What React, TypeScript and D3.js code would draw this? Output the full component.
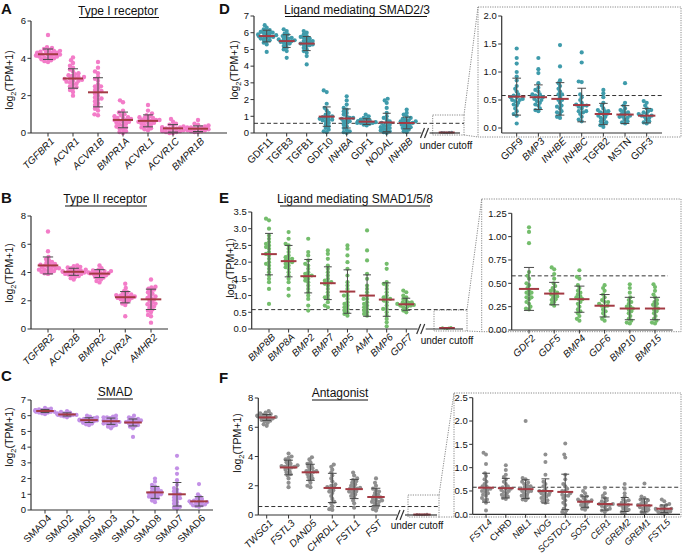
import React from 'react';
import * as d3 from 'd3';

// ---------------- DATA ----------------
const A_CATS = ['TGFBR1', 'ACVR1', 'ACVR1B', 'BMPR1A', 'ACVRL1', 'ACVR1C', 'BMPR1B'];
const A_MEAN = [4.22, 2.92, 2.18, 0.7, 0.65, 0.25, 0.23];
const A_SD = [0.28, 0.52, 0.78, 0.42, 0.32, 0.2, 0.15];
const A_PTS = [
  [5.25, 4.6, 4.55, 4.5, 4.45, 4.4, 4.4, 4.35, 4.3, 4.3, 4.25, 4.25, 4.2, 4.2, 4.2, 4.15, 4.15, 4.1, 4.1, 4.05, 4.0, 4.0, 3.95, 3.9, 3.85, 3.8, 4.3, 4.2, 4.1, 4.35],
  [4.05, 3.9, 3.75, 3.6, 3.5, 3.4, 3.3, 3.2, 3.1, 3.05, 3.0, 2.95, 2.9, 2.9, 2.85, 2.8, 2.75, 2.7, 2.65, 2.6, 2.5, 2.45, 2.4, 2.3, 2.2, 2.0, 3.0, 2.8, 3.15],
  [3.8, 3.5, 3.3, 3.2, 3.0, 2.9, 2.8, 2.6, 2.5, 2.4, 2.3, 2.2, 2.1, 2.0, 1.9, 1.8, 1.7, 1.6, 1.5, 1.4, 1.3, 1.2, 1.0, 0.95, 2.25, 2.5, 1.85],
  [1.75, 1.65, 1.2, 1.1, 1.0, 0.95, 0.9, 0.85, 0.8, 0.75, 0.7, 0.65, 0.6, 0.55, 0.5, 0.45, 0.4, 0.35, 0.3, 0.25, 0.2, 0.1, 0.05, 0.0, 0.6, 0.8, 0.7],
  [1.5, 1.2, 1.05, 0.95, 0.9, 0.85, 0.8, 0.75, 0.7, 0.7, 0.65, 0.6, 0.6, 0.55, 0.5, 0.45, 0.4, 0.35, 0.3, 0.25, 0.2, 0.15, 0.7, 0.55, 0.8],
  [0.75, 0.6, 0.5, 0.45, 0.4, 0.35, 0.3, 0.3, 0.25, 0.25, 0.2, 0.2, 0.15, 0.15, 0.1, 0.1, 0.05, 0.05, 0.0, 0.0, 0.3, 0.2],
  [0.7, 0.5, 0.45, 0.4, 0.35, 0.3, 0.3, 0.25, 0.25, 0.2, 0.2, 0.2, 0.15, 0.15, 0.1, 0.1, 0.05, 0.05, 0.3, 0.25],
];

const B_CATS = ['TGFBR2', 'ACVR2B', 'BMPR2', 'ACVR2A', 'AMHR2'];
const B_MEAN = [4.5, 4.05, 3.92, 2.25, 2.1];
const B_SD = [0.6, 0.25, 0.28, 0.4, 0.72];
const B_PTS = [
  [6.9, 5.5, 5.1, 4.95, 4.85, 4.75, 4.7, 4.6, 4.55, 4.5, 4.45, 4.4, 4.35, 4.3, 4.25, 4.2, 4.15, 4.1, 4.05, 4.0, 3.95, 3.9, 4.3, 4.6, 4.2],
  [4.5, 4.45, 4.4, 4.35, 4.3, 4.25, 4.2, 4.15, 4.1, 4.05, 4.05, 4.0, 4.0, 3.95, 3.9, 3.85, 3.8, 3.75, 3.7, 3.6, 3.5, 4.1, 4.2, 3.9],
  [4.5, 4.3, 4.2, 4.15, 4.1, 4.05, 4.0, 3.95, 3.9, 3.9, 3.85, 3.8, 3.75, 3.7, 3.65, 3.6, 3.5, 3.4, 3.3, 4.0, 3.95, 4.1],
  [3.2, 2.9, 2.7, 2.6, 2.5, 2.45, 2.4, 2.35, 2.3, 2.25, 2.2, 2.15, 2.1, 2.05, 2.0, 1.9, 1.8, 1.7, 0.9, 2.3, 2.4, 2.2],
  [3.5, 3.0, 2.95, 2.85, 2.8, 2.7, 2.6, 2.5, 2.4, 2.3, 2.2, 2.1, 2.0, 1.9, 1.8, 1.7, 1.6, 1.5, 1.4, 1.3, 1.2, 1.0, 0.9, 0.45, 2.2, 1.75],
];

const C_CATS = ['SMAD4', 'SMAD2', 'SMAD5', 'SMAD3', 'SMAD1', 'SMAD8', 'SMAD7', 'SMAD6'];
const C_MEAN = [6.3, 6.08, 5.72, 5.65, 5.57, 1.12, 1.0, 0.55];
const C_SD = [0.1, 0.1, 0.15, 0.2, 0.22, 0.38, 0.75, 0.3];
const C_PTS = [
  [6.5, 6.45, 6.4, 6.4, 6.35, 6.35, 6.3, 6.3, 6.3, 6.25, 6.25, 6.2, 6.2, 6.15, 6.1, 6.3, 6.35, 6.25],
  [6.3, 6.25, 6.2, 6.15, 6.1, 6.1, 6.05, 6.05, 6.0, 6.0, 5.95, 5.9, 6.1, 6.05, 6.15],
  [6.0, 5.95, 5.9, 5.85, 5.8, 5.75, 5.75, 5.7, 5.7, 5.65, 5.6, 5.55, 5.5, 5.45, 5.4, 5.7, 5.8, 5.65],
  [6.0, 5.95, 5.9, 5.85, 5.8, 5.75, 5.7, 5.65, 5.6, 5.55, 5.5, 5.45, 5.4, 5.35, 5.3, 5.2, 5.7, 5.6, 5.9, 5.5],
  [6.0, 5.9, 5.85, 5.8, 5.75, 5.7, 5.65, 5.6, 5.55, 5.5, 5.45, 5.4, 5.35, 5.3, 5.2, 4.65, 5.6, 5.7],
  [2.0, 1.8, 1.6, 1.5, 1.4, 1.35, 1.3, 1.2, 1.15, 1.1, 1.05, 1.0, 0.95, 0.9, 0.85, 0.8, 0.75, 0.7, 0.6, 0.5, 1.2, 1.0],
  [3.45, 2.65, 2.3, 1.9, 1.6, 1.4, 1.3, 1.2, 1.1, 1.0, 0.9, 0.8, 0.7, 0.6, 0.5, 0.4, 0.3, 0.2, 0.15, 0.1, 1.0, 0.75],
  [1.65, 1.0, 0.85, 0.75, 0.7, 0.6, 0.55, 0.5, 0.5, 0.45, 0.4, 0.35, 0.3, 0.3, 0.25, 0.2, 0.6, 0.45],
];

const D_CATS = ['GDF11', 'TGFB3', 'TGFB1', 'GDF10', 'INHBA', 'GDF1', 'NODAL', 'INHBB'];
const D_MEAN = [5.8, 5.5, 5.35, 0.98, 0.87, 0.68, 0.63, 0.6];
const D_SD = [0.35, 0.38, 0.42, 0.58, 0.57, 0.17, 0.55, 0.35];
const D_PTS = [
  [6.45, 6.3, 6.2, 6.15, 6.1, 6.05, 6.0, 5.95, 5.9, 5.85, 5.8, 5.8, 5.75, 5.7, 5.65, 5.6, 5.55, 5.5, 5.4, 5.3, 4.85, 5.9, 5.75, 6.0],
  [6.2, 6.1, 5.95, 5.9, 5.8, 5.75, 5.7, 5.65, 5.6, 5.55, 5.5, 5.45, 5.4, 5.35, 5.3, 5.2, 5.1, 5.0, 4.9, 4.5, 5.6, 5.5],
  [6.1, 6.0, 5.9, 5.8, 5.75, 5.7, 5.6, 5.5, 5.45, 5.4, 5.35, 5.3, 5.25, 5.2, 5.1, 5.0, 4.9, 4.8, 4.6, 4.1, 5.5, 5.3, 5.65],
  [2.55, 2.45, 1.75, 1.5, 1.35, 1.2, 1.1, 1.0, 0.95, 0.9, 0.85, 0.8, 0.75, 0.7, 0.6, 0.5, 0.4, 0.3, 0.2, 0.1, 0.05, 1.0, 0.8],
  [2.2, 1.95, 1.7, 1.5, 1.4, 1.3, 1.2, 1.1, 1.0, 0.9, 0.85, 0.8, 0.7, 0.6, 0.5, 0.4, 0.3, 0.2, 0.1, 0.05, 0.0, 0.9, 0.7],
  [1.1, 1.0, 0.9, 0.85, 0.8, 0.75, 0.7, 0.7, 0.65, 0.65, 0.6, 0.6, 0.55, 0.5, 0.45, 0.7, 0.6],
  [2.05, 1.95, 1.8, 1.5, 1.2, 1.0, 0.9, 0.8, 0.7, 0.6, 0.5, 0.45, 0.4, 0.35, 0.3, 0.25, 0.2, 0.15, 0.1, 0.05, 0.0, 0.6],
  [1.4, 1.2, 1.1, 1.0, 0.9, 0.85, 0.8, 0.75, 0.7, 0.65, 0.6, 0.55, 0.5, 0.45, 0.4, 0.35, 0.3, 0.25, 0.2, 0.1, 0.05, 0.6, 0.7],
];
const D_UC_MEAN = 0.03;
const D_UC_PTS = [0.01, 0.02, 0.03, 0.04, 0.05];

const DZ_CATS = ['GDF9', 'BMP3', 'INHBE', 'INHBC', 'TGFB2', 'MSTN', 'GDF3'];
const DZ_MEAN = [0.56, 0.55, 0.52, 0.41, 0.25, 0.24, 0.22];
const DZ_SD = [0.33, 0.22, 0.29, 0.3, 0.19, 0.16, 0.13];
const DZ_PTS = [
  [1.42, 1.25, 1.15, 1.0, 0.92, 0.85, 0.75, 0.7, 0.65, 0.6, 0.58, 0.55, 0.52, 0.5, 0.48, 0.45, 0.42, 0.4, 0.35, 0.3, 0.25, 0.22, 0.08, 0.55, 0.5],
  [1.25, 1.05, 0.98, 0.8, 0.72, 0.68, 0.65, 0.6, 0.58, 0.55, 0.52, 0.5, 0.48, 0.45, 0.42, 0.4, 0.35, 0.32, 0.3, 0.55, 0.6],
  [1.48, 1.1, 0.85, 0.8, 0.75, 0.7, 0.65, 0.6, 0.55, 0.5, 0.45, 0.4, 0.38, 0.35, 0.3, 0.28, 0.25, 0.2, 0.18, 0.5, 0.6],
  [1.35, 1.17, 0.83, 0.82, 0.6, 0.55, 0.5, 0.45, 0.42, 0.4, 0.38, 0.35, 0.3, 0.28, 0.25, 0.2, 0.15, 0.12, 0.4, 0.3],
  [0.68, 0.62, 0.55, 0.45, 0.4, 0.35, 0.32, 0.3, 0.28, 0.25, 0.22, 0.2, 0.18, 0.15, 0.12, 0.1, 0.08, 0.05, 0.02, 0.25, 0.3],
  [0.8, 0.45, 0.4, 0.35, 0.32, 0.3, 0.28, 0.25, 0.22, 0.2, 0.18, 0.15, 0.12, 0.1, 0.08, 0.25, 0.2],
  [0.48, 0.45, 0.4, 0.35, 0.32, 0.3, 0.28, 0.25, 0.22, 0.2, 0.18, 0.15, 0.12, 0.1, 0.08, 0.22, 0.25],
];

const E_CATS = ['BMP8B', 'BMP8A', 'BMP2', 'BMP7', 'BMP5', 'AMH', 'BMP6', 'GDF7'];
const E_MEAN = [2.24, 2.03, 1.58, 1.37, 1.12, 1.0, 0.88, 0.74];
const E_SD = [0.62, 0.47, 0.5, 0.49, 0.65, 0.62, 0.5, 0.18];
const E_PTS = [
  [3.3, 3.25, 3.0, 2.8, 2.7, 2.6, 2.5, 2.45, 2.4, 2.3, 2.2, 2.1, 2.0, 1.95, 1.9, 1.8, 1.7, 1.6, 1.5, 1.4, 1.2, 0.75, 2.25, 2.55],
  [2.9, 2.7, 2.55, 2.5, 2.4, 2.3, 2.2, 2.15, 2.1, 2.05, 2.0, 1.95, 1.9, 1.85, 1.8, 1.7, 1.6, 1.5, 1.4, 1.2, 1.0, 2.1, 2.0],
  [2.7, 2.3, 2.2, 2.05, 1.95, 1.9, 1.8, 1.7, 1.65, 1.6, 1.55, 1.5, 1.45, 1.4, 1.3, 1.2, 1.1, 1.0, 0.9, 0.7, 0.55, 1.6],
  [2.35, 2.25, 2.1, 1.9, 1.8, 1.7, 1.6, 1.5, 1.45, 1.4, 1.35, 1.3, 1.2, 1.1, 1.0, 0.95, 0.9, 0.8, 0.7, 0.65, 1.4],
  [2.5, 2.4, 2.2, 2.0, 1.8, 1.6, 1.4, 1.3, 1.2, 1.1, 1.0, 0.9, 0.8, 0.75, 0.7, 0.65, 0.6, 0.55, 0.5, 0.45, 0.4, 1.0],
  [2.95, 2.35, 2.05, 1.65, 1.5, 1.3, 1.2, 1.1, 1.0, 0.9, 0.8, 0.75, 0.7, 0.65, 0.6, 0.55, 0.5, 0.45, 0.4, 0.9],
  [1.95, 1.8, 1.4, 1.35, 1.3, 1.2, 1.1, 1.0, 0.95, 0.9, 0.85, 0.8, 0.7, 0.6, 0.5, 0.4, 0.3, 0.2, 0.08, 0.9, 0.6],
  [1.15, 1.1, 1.0, 0.95, 0.9, 0.85, 0.8, 0.78, 0.75, 0.72, 0.7, 0.68, 0.65, 0.6, 0.55, 0.5, 0.75, 0.7, 0.8],
];
const E_UC_MEAN = 0.03;
const E_UC_PTS = [0.01, 0.02, 0.03, 0.04, 0.05];

const EZ_CATS = ['GDF2', 'GDF5', 'BMP4', 'GDF6', 'BMP10', 'BMP15'];
const EZ_MEAN = [0.44, 0.39, 0.33, 0.26, 0.23, 0.23];
const EZ_SD = [0.23, 0.12, 0.14, 0.12, 0.12, 0.12];
const EZ_PTS = [
  [1.1, 1.05, 0.93, 0.62, 0.58, 0.55, 0.5, 0.48, 0.45, 0.42, 0.4, 0.38, 0.35, 0.33, 0.3, 0.28, 0.25, 0.23, 0.22, 0.35, 0.4],
  [0.67, 0.65, 0.6, 0.55, 0.5, 0.47, 0.45, 0.42, 0.4, 0.38, 0.36, 0.35, 0.33, 0.32, 0.3, 0.28, 0.26, 0.38, 0.42],
  [0.64, 0.57, 0.55, 0.48, 0.45, 0.42, 0.4, 0.38, 0.35, 0.33, 0.3, 0.28, 0.25, 0.22, 0.2, 0.18, 0.15, 0.12, 0.1, 0.33, 0.36],
  [0.48, 0.45, 0.42, 0.38, 0.35, 0.32, 0.3, 0.28, 0.26, 0.25, 0.22, 0.2, 0.18, 0.15, 0.12, 0.1, 0.26, 0.3],
  [0.49, 0.45, 0.4, 0.35, 0.32, 0.3, 0.28, 0.25, 0.22, 0.2, 0.18, 0.15, 0.12, 0.1, 0.08, 0.07, 0.23, 0.25],
  [0.49, 0.46, 0.42, 0.38, 0.35, 0.32, 0.3, 0.27, 0.25, 0.22, 0.2, 0.18, 0.15, 0.12, 0.1, 0.08, 0.07, 0.23, 0.28],
];

const F_CATS = ['TWSG1', 'FSTL3', 'DAND5', 'CHRDL1', 'FSTL1', 'FST'];
const F_MEAN = [6.67, 3.25, 2.92, 1.85, 1.77, 1.23];
const F_SD = [0.2, 0.5, 0.55, 1.0, 0.65, 0.6];
const F_PTS = [
  [7.1, 7.0, 6.95, 6.9, 6.85, 6.8, 6.75, 6.7, 6.7, 6.65, 6.6, 6.55, 6.5, 6.45, 6.4, 6.3, 6.2, 6.1, 6.7, 6.8],
  [4.2, 4.0, 3.9, 3.8, 3.7, 3.6, 3.5, 3.4, 3.35, 3.3, 3.25, 3.2, 3.1, 3.0, 2.9, 2.8, 2.7, 2.5, 2.2, 1.9, 3.3, 3.4],
  [3.95, 3.8, 3.6, 3.5, 3.4, 3.3, 3.2, 3.1, 3.0, 2.95, 2.9, 2.8, 2.7, 2.6, 2.5, 2.4, 2.2, 2.0, 1.9, 3.0],
  [3.45, 3.3, 3.1, 2.9, 2.7, 2.5, 2.3, 2.1, 2.0, 1.9, 1.8, 1.7, 1.6, 1.5, 1.3, 1.1, 0.9, 0.8, 0.6, 0.4, 0.35, 1.9],
  [2.9, 2.7, 2.5, 2.4, 2.3, 2.2, 2.1, 2.0, 1.9, 1.85, 1.8, 1.7, 1.6, 1.5, 1.4, 1.3, 1.2, 1.0, 0.8, 0.5, 1.8, 1.6],
  [2.5, 2.2, 2.0, 1.8, 1.7, 1.6, 1.5, 1.4, 1.3, 1.2, 1.1, 1.0, 0.9, 0.8, 0.7, 0.6, 0.5, 0.4, 0.3, 1.2, 1.0, 0.9],
];
const F_UC_MEAN = 0.03;
const F_UC_PTS = [0.01, 0.02, 0.03, 0.04, 0.05];

const FZ_CATS = ['FSTL4', 'CHRD', 'NBL1', 'NOG', 'SCSTDC1', 'SOST', 'CER1', 'GREM2', 'GREM1', 'FSTL5'];
const FZ_MEAN = [0.57, 0.56, 0.54, 0.5, 0.48, 0.27, 0.22, 0.21, 0.19, 0.12];
const FZ_SD = [0.31, 0.21, 0.2, 0.26, 0.38, 0.12, 0.13, 0.15, 0.14, 0.08];
const FZ_PTS = [
  [1.32, 1.28, 1.08, 0.88, 0.82, 0.75, 0.7, 0.65, 0.6, 0.55, 0.52, 0.5, 0.48, 0.45, 0.42, 0.4, 0.35, 0.32, 0.3, 0.25, 0.08, 0.55, 0.6],
  [1.05, 0.95, 0.85, 0.8, 0.75, 0.7, 0.65, 0.6, 0.58, 0.55, 0.52, 0.5, 0.48, 0.45, 0.42, 0.4, 0.38, 0.35, 0.33, 0.55],
  [2.0, 0.78, 0.75, 0.7, 0.68, 0.65, 0.62, 0.6, 0.58, 0.55, 0.52, 0.5, 0.48, 0.45, 0.42, 0.4, 0.38, 0.35, 0.32, 0.3, 0.55, 0.5],
  [1.28, 1.12, 0.85, 0.7, 0.65, 0.6, 0.55, 0.5, 0.48, 0.45, 0.42, 0.4, 0.38, 0.35, 0.33, 0.3, 0.28, 0.25, 0.45, 0.5],
  [1.52, 1.28, 1.22, 0.85, 0.75, 0.65, 0.6, 0.55, 0.5, 0.45, 0.42, 0.4, 0.35, 0.3, 0.25, 0.2, 0.12, 0.08, 0.05, 0.02, 0.5, 0.4],
  [0.57, 0.5, 0.45, 0.4, 0.38, 0.35, 0.32, 0.3, 0.28, 0.25, 0.22, 0.2, 0.18, 0.15, 0.12, 0.1, 0.27, 0.3],
  [0.57, 0.45, 0.4, 0.35, 0.3, 0.28, 0.25, 0.22, 0.2, 0.18, 0.15, 0.12, 0.1, 0.08, 0.05, 0.22, 0.2],
  [0.65, 0.55, 0.45, 0.38, 0.32, 0.3, 0.28, 0.25, 0.22, 0.2, 0.18, 0.15, 0.12, 0.1, 0.08, 0.05, 0.02, 0.2],
  [0.66, 0.38, 0.35, 0.32, 0.3, 0.28, 0.25, 0.22, 0.2, 0.18, 0.15, 0.12, 0.1, 0.08, 0.05, 0.02, 0.2, 0.15],
  [0.32, 0.28, 0.22, 0.2, 0.18, 0.15, 0.12, 0.1, 0.1, 0.08, 0.06, 0.05, 0.03, 0.02, 0.01, 0.12, 0.1],
];

const CUTOFF = 0.58;
const UPRIGHT = ['SMAD4', 'SMAD2', 'SMAD5', 'SMAD3', 'SMAD1', 'SMAD8', 'SMAD7', 'SMAD6', 'GDF11', 'TGFB3', 'TGFB1', 'GDF10', 'GDF1', 'GDF9', 'TGFB2', 'MSTN', 'GDF3', 'CHRD'];

// ---------------- STYLE ----------------
const FONT = "'Liberation Sans', Arial, Helvetica, sans-serif";
const AXIS = '#333';
const MEANC = '#a33a43';
const ERRC = '#4a4a4a';
const BOXC = '#8a8a8a';
const PINK = '#f37cc8';
const PURPLE = '#c390e6';
const TEAL = '#3f9bab';
const GREEN = '#74bd6c';
const GREY = '#8f8f8f';

type Cfg = {
  cats: string[]; pts: number[][]; mean: number[]; sd: number[]; color: string;
  x0: number; x1: number; cx0: number; cx1: number; y0: number; yMax: number; axisY: number;
  dmax: number; ticks: number[]; fmt: string; r: number; cutoff?: [number, number]; lab?: number;
  uc?: { cx: number; segStart: number; segEnd: number; brk: number; mean: number; pts: number[]; labelX: number; labelY: number };
};

function swarm(vals: number[], ys: (v: number) => number, minD: number, maxOff: number) {
  const items = vals.map((v) => ({ v, y: ys(v), x: 0 })).sort((a, b) => a.v - b.v);
  const placed: { x: number; y: number }[] = [];
  for (const p of items) {
    let best = 0;
    for (let k = 0; k < 400; k++) {
      const off = (k % 2 === 0 ? 1 : -1) * Math.ceil(k / 2) * 0.5;
      if (Math.abs(off) > maxOff) { best = (k % 2 === 0 ? 1 : -1) * maxOff * 0.9; break; }
      if (placed.every((q) => (q.x - off) ** 2 + (q.y - p.y) ** 2 >= minD * minD)) { best = off; break; }
    }
    p.x = best;
    placed.push(p);
  }
  return items;
}

function Group({ cx, pts, mean, sd, color, y, step, r }: any) {
  const sw = swarm(pts, y, r * 1.45, step * 0.48);
  const mw = step * 0.4;
  const cw = step * 0.2;
  return (
    <g>
      {sw.map((p: any, i: number) => (
        <circle key={i} cx={cx + p.x} cy={p.y} r={r} fill={color} />
      ))}
      {sd > 0 && (
        <g stroke={ERRC} strokeWidth={1}>
          <line x1={cx} x2={cx} y1={y(mean + sd)} y2={y(Math.max(0, mean - sd))} />
          <line x1={cx - cw} x2={cx + cw} y1={y(mean + sd)} y2={y(mean + sd)} />
          <line x1={cx - cw} x2={cx + cw} y1={y(Math.max(0, mean - sd))} y2={y(Math.max(0, mean - sd))} />
        </g>
      )}
      <line x1={cx - mw} x2={cx + mw} y1={y(mean)} y2={y(mean)} stroke={MEANC} strokeWidth={2} />
    </g>
  );
}

function Panel({ c }: { c: Cfg }) {
  const y = d3.scaleLinear().domain([0, c.dmax]).range([c.y0, c.yMax]);
  const x = d3.scalePoint<string>().domain(c.cats).range([c.cx0, c.cx1]);
  const step = (c.cx1 - c.cx0) / (c.cats.length - 1);
  const f = d3.format(c.fmt);
  const ax1 = c.uc ? c.uc.brk - 4 : c.x1;
  return (
    <g fontFamily={FONT}>
      {c.cutoff && (
        <line x1={c.x0} x2={c.cutoff[1]} y1={y(CUTOFF)} y2={y(CUTOFF)} stroke="#333" strokeDasharray="4,2.5" strokeWidth={1} />
      )}
      {c.cats.map((cat, i) => (
        <Group key={cat} cx={x(cat)!} pts={c.pts[i]} mean={c.mean[i]} sd={c.sd[i]} color={c.color} y={y} step={step} r={c.r} />
      ))}
      {c.uc && (
        <Group cx={c.uc.cx} pts={c.uc.pts} mean={c.uc.mean} sd={0} color={c.color} y={y} step={step} r={1.4} />
      )}
      {/* y axis */}
      <line x1={c.x0} x2={c.x0} y1={y(c.dmax)} y2={c.axisY} stroke={AXIS} strokeWidth={1.2} />
      {c.ticks.map((t) => (
        <g key={t}>
          <line x1={c.x0 - 3.5} x2={c.x0} y1={y(t)} y2={y(t)} stroke={AXIS} strokeWidth={1} />
          <text x={c.x0 - 5} y={y(t)} dy="0.35em" textAnchor="end" fontSize={9.5} fill="#111">{f(t)}</text>
        </g>
      ))}
      {/* x axis */}
      <line x1={c.x0} x2={ax1} y1={c.axisY} y2={c.axisY} stroke={AXIS} strokeWidth={1.2} />
      {c.cats.map((cat) => (
        <g key={cat}>
          <line x1={x(cat)!} x2={x(cat)!} y1={c.axisY} y2={c.axisY + 3.5} stroke={AXIS} strokeWidth={1} />
          <text transform={`translate(${x(cat)! + 3},${c.axisY + 5}) rotate(-45)`} textAnchor="end" dy="0.55em"
            fontSize={c.lab ?? 10} fontStyle={UPRIGHT.includes(cat) ? 'normal' : 'italic'} fill="#111">{cat}</text>
        </g>
      ))}
      {c.uc && (
        <g>
          <line x1={c.uc.brk + 4} x2={c.uc.segEnd} y1={c.axisY} y2={c.axisY} stroke={AXIS} strokeWidth={1.2} />
          <line x1={c.uc.brk - 5} x2={c.uc.brk - 1} y1={c.axisY + 5} y2={c.axisY - 5} stroke={AXIS} strokeWidth={1.2} />
          <line x1={c.uc.brk - 1} x2={c.uc.brk + 3} y1={c.axisY + 5} y2={c.axisY - 5} stroke={AXIS} strokeWidth={1.2} />
          <text x={c.uc.labelX} y={c.uc.labelY} textAnchor="middle" fontSize={10} fill="#111">under cutoff</text>
        </g>
      )}
    </g>
  );
}

function YLabel({ x, y }: { x: number; y: number }) {
  return (
    <text transform={`translate(${x},${y}) rotate(-90)`} textAnchor="middle" fontSize={10.5} fontFamily={FONT} fill="#111">
      log<tspan dy="3" fontSize={7.5}>2</tspan><tspan dy="-3">(TPM+1)</tspan>
    </text>
  );
}

function Title({ text, cx, y, u1, u2 }: { text: string; cx: number; y: number; u1: number; u2: number }) {
  return (
    <g fontFamily={FONT}>
      <text x={cx} y={y} textAnchor="middle" fontSize={12} fill="#111">{text}</text>
      <line x1={u1} x2={u2} y1={y + 3} y2={y + 3} stroke="#111" strokeWidth={1.2} />
    </g>
  );
}

function Letter({ t, x, y }: { t: string; x: number; y: number }) {
  return <text x={x} y={y} fontSize={15} fontWeight="bold" fontFamily={FONT} fill="#111">{t}</text>;
}

function ZoomBox({ s, b }: { s: [number, number, number, number]; b: [number, number, number, number] }) {
  const st = { stroke: BOXC, strokeWidth: 1, strokeDasharray: '1.2,1.2', fill: 'none' } as any;
  return (
    <g>
      <rect x={s[0]} y={s[1]} width={s[2] - s[0]} height={s[3] - s[1]} {...st} />
      <rect x={b[0]} y={b[1]} width={b[2] - b[0]} height={b[3] - b[1]} {...st} />
      <line x1={s[2]} y1={s[1]} x2={b[0]} y2={b[1]} {...st} />
      <line x1={s[2]} y1={s[3]} x2={b[0]} y2={b[3]} {...st} />
    </g>
  );
}

const PANELS: Cfg[] = [
  { cats: A_CATS, pts: A_PTS, mean: A_MEAN, sd: A_SD, color: PINK, x0: 31, x1: 227, cx0: 48, cx1: 198, y0: 133, yMax: 21, axisY: 133, dmax: 6, ticks: [0, 2, 4, 6], fmt: 'd', r: 2.2 },
  { cats: B_CATS, pts: B_PTS, mean: B_MEAN, sd: B_SD, color: PINK, x0: 31, x1: 168, cx0: 48, cx1: 151, y0: 329, yMax: 216, axisY: 329, dmax: 8, ticks: [0, 2, 4, 6, 8], fmt: 'd', r: 2.2 },
  { cats: C_CATS, pts: C_PTS, mean: C_MEAN, sd: C_SD, color: PURPLE, x0: 31, x1: 213, cx0: 45, cx1: 199, y0: 510, yMax: 400, axisY: 510, dmax: 7, ticks: [0, 1, 2, 3, 4, 5, 6, 7], fmt: 'd', r: 2.1 },
  { cats: D_CATS, pts: D_PTS, mean: D_MEAN, sd: D_SD, color: TEAL, x0: 254, x1: 420, cx0: 266.7, cx1: 406.7, y0: 133, yMax: 16, axisY: 133, dmax: 7, ticks: [0, 1, 2, 3, 4, 5, 6, 7], fmt: 'd', r: 2.1, cutoff: [254, 464],
    uc: { cx: 446.7, segStart: 430, segEnd: 460, brk: 425.5, mean: D_UC_MEAN, pts: D_UC_PTS, labelX: 446, labelY: 149 } },
  { cats: DZ_CATS, pts: DZ_PTS, mean: DZ_MEAN, sd: DZ_SD, color: TEAL, x0: 501.7, x1: 662, cx0: 516.7, cx1: 646.7, y0: 128, yMax: 16, axisY: 133, dmax: 2, ticks: [0, 0.5, 1, 1.5, 2], fmt: '.1f', r: 2.1, cutoff: [501.7, 662] },
  { cats: E_CATS, pts: E_PTS, mean: E_MEAN, sd: E_SD, color: GREEN, x0: 251.7, x1: 416, cx0: 269, cx1: 406.3, y0: 329, yMax: 212, axisY: 329, dmax: 3.5, ticks: [0, 0.5, 1, 1.5, 2, 2.5, 3, 3.5], fmt: '.1f', r: 2.1, cutoff: [251.7, 467],
    uc: { cx: 447, segStart: 427, segEnd: 463, brk: 421.7, mean: E_UC_MEAN, pts: E_UC_PTS, labelX: 447, labelY: 344 } },
  { cats: EZ_CATS, pts: EZ_PTS, mean: EZ_MEAN, sd: EZ_SD, color: GREEN, x0: 511.7, x1: 672.7, cx0: 529, cx1: 655, y0: 330, yMax: 213.3, axisY: 330, dmax: 1.25, ticks: [0, 0.25, 0.5, 0.75, 1, 1.25], fmt: '.2f', r: 2.1, cutoff: [511.7, 668] },
  { cats: F_CATS, pts: F_PTS, mean: F_MEAN, sd: F_SD, color: GREY, x0: 258.3, x1: 396, cx0: 266.7, cx1: 376, y0: 515, yMax: 398, axisY: 515, dmax: 8, ticks: [0, 2, 4, 6, 8], fmt: 'd', r: 2.1, cutoff: [258.3, 439],
    uc: { cx: 422, segStart: 405, segEnd: 437, brk: 401, mean: F_UC_MEAN, pts: F_UC_PTS, labelX: 417, labelY: 529 } },
  { cats: FZ_CATS, pts: FZ_PTS, mean: FZ_MEAN, sd: FZ_SD, color: GREY, x0: 472.7, x1: 680, cx0: 486, cx1: 664.3, y0: 514.3, yMax: 397.7, axisY: 514.3, dmax: 2.5, ticks: [0, 0.5, 1, 1.5, 2, 2.5], fmt: '.1f', r: 2.0, cutoff: [472.7, 680], lab: 9.2 },
];

export default function App() {
  return (
    <svg width={685} height={554} style={{ position: 'absolute', left: 0, top: 0, background: '#fff' }}>
      <rect width={685} height={554} fill="#fff" />
      <ZoomBox s={[432.7, 115, 464, 135]} b={[478, 7, 681, 137]} />
      <ZoomBox s={[434, 310, 467, 331]} b={[481.7, 199, 681, 331.7]} />
      <ZoomBox s={[408, 495, 439, 517]} b={[454, 393, 681, 517]} />
      {PANELS.map((c, i) => <Panel key={i} c={c} />)}
      <YLabel x={13} y={80} />
      <YLabel x={13} y={273} />
      <YLabel x={13} y={437} />
      <YLabel x={238} y={70} />
      <YLabel x={234} y={268} />
      <YLabel x={241} y={443} />
      <Title text="Type I receptor" cx={118} y={14.5} u1={79} u2={159} />
      <Title text="Type II receptor" cx={105} y={203} u1={65} u2={147} />
      <Title text="SMAD" cx={115} y={396} u1={97} u2={133} />
      <Title text="Ligand mediating SMAD2/3" cx={357} y={13.5} u1={285} u2={427} />
      <Title text="Ligand mediating SMAD1/5/8" cx={355} y={203} u1={280} u2={430} />
      <Title text="Antagonist" cx={340} y={397} u1={312} u2={368} />
      <Letter t="A" x={1} y={14} />
      <Letter t="B" x={1} y={203} />
      <Letter t="C" x={1} y={381} />
      <Letter t="D" x={219} y={14} />
      <Letter t="E" x={219} y={203} />
      <Letter t="F" x={219} y={383} />
    </svg>
  );
}
